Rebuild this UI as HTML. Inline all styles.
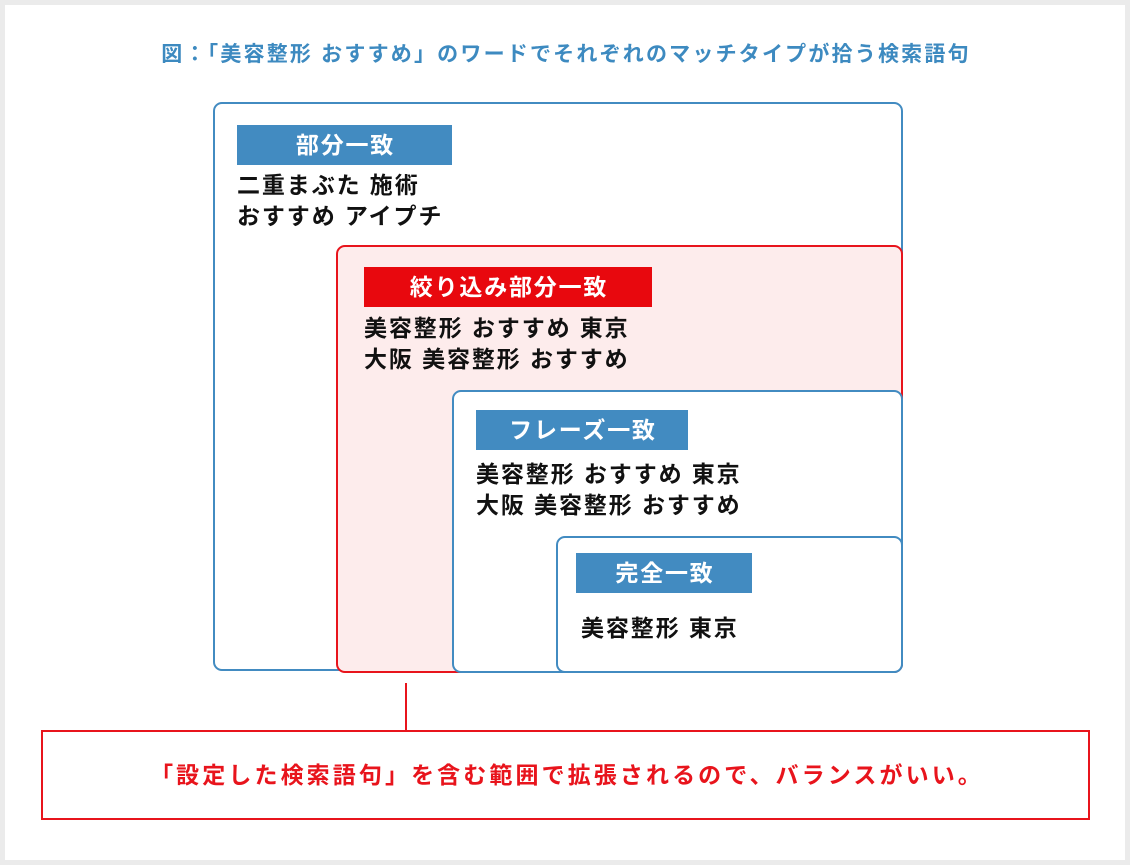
<!DOCTYPE html>
<html><head><meta charset="utf-8"><style>
body{margin:0;width:1130px;height:865px;background:#ebebeb;position:relative;overflow:hidden;font-family:"Liberation Sans","Noto Sans CJK JP",sans-serif;font-weight:bold}
.panel{position:absolute;left:5px;top:5px;width:1120px;height:855px;background:#fff}
.a{position:absolute;box-sizing:border-box}
.box{border:2px solid #428bc1;border-radius:9px;background:#fff}
.lab{background:#428bc1;color:#fff;font-size:23px;text-align:center;line-height:40px;height:40px;letter-spacing:1.8px;text-indent:2px;white-space:nowrap}
.t{font-size:23px;line-height:31px;color:#111;white-space:nowrap;letter-spacing:1.9px}
</style></head><body>
<div class="panel"></div>
<div class="a" style="left:0;top:40px;width:1130px;text-align:center;font-size:21px;color:#3d8ac0;line-height:30px;letter-spacing:2.2px;text-indent:2px;white-space:nowrap">図：「美容整形 おすすめ」のワードでそれぞれのマッチタイプが拾う検索語句</div>
<div class="a box" style="left:213px;top:102px;width:690px;height:569px"></div>
<div class="a lab" style="left:237px;top:125px;width:215px">部分一致</div>
<div class="a t" style="left:237px;top:170px">二重まぶた 施術<br>おすすめ アイプチ</div>
<div class="a box" style="left:336px;top:245px;width:567px;height:428px;border-color:#e8141c;background:#fdecec"></div>
<div class="a lab" style="left:364px;top:267px;width:288px;background:#e8080e">絞り込み部分一致</div>
<div class="a t" style="left:364px;top:313px">美容整形 おすすめ 東京<br>大阪 美容整形 おすすめ</div>
<div class="a box" style="left:452px;top:390px;width:451px;height:283px"></div>
<div class="a lab" style="left:476px;top:410px;width:212px">フレーズ一致</div>
<div class="a t" style="left:476px;top:459px">美容整形 おすすめ 東京<br>大阪 美容整形 おすすめ</div>
<div class="a box" style="left:556px;top:536px;width:347px;height:137px"></div>
<div class="a lab" style="left:576px;top:553px;width:176px">完全一致</div>
<div class="a t" style="left:581px;top:613px">美容整形 東京</div>
<div class="a" style="left:405px;top:683px;width:2px;height:48px;background:#e8141c"></div>
<div class="a" style="left:41px;top:730px;width:1049px;height:90px;border:2px solid #e8141c;text-align:center;line-height:86px;font-size:23px;color:#e8141c;letter-spacing:3.1px;text-indent:3px;white-space:nowrap">「設定した検索語句」を含む範囲で拡張されるので、バランスがいい。</div>
</body></html>
